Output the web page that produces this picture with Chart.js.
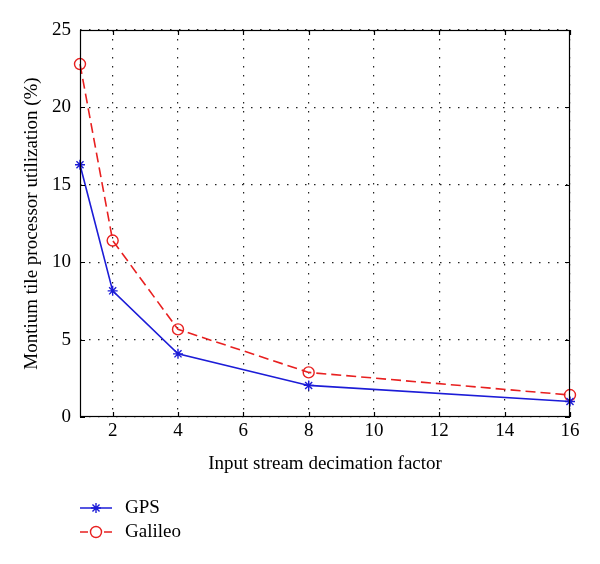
<!DOCTYPE html>
<html>
<head>
<meta charset="utf-8">
<script src="https://cdn.jsdelivr.net/npm/chart.js@4/dist/chart.umd.min.js"></script>
<style>
  html, body { margin: 0; padding: 0; background: #fff; }
  #wrap { width: 600px; height: 564px; }
</style>
</head>
<body>
<div id="wrap"><canvas id="chart" width="600" height="564"></canvas></div>
<script>
const decimation = [1, 2, 4, 8, 16];
const gpsUtil = [16.3, 8.15, 4.08, 2.04, 1.0];
const galileoUtil = [22.8, 11.4, 5.66, 2.88, 1.42];
const xTicks = [2, 4, 6, 8, 10, 12, 14, 16];
const yTicks = [0, 5, 10, 15, 20, 25];

const FONT = "'Liberation Serif', 'DejaVu Serif', serif";
const FSIZE = 19;
const BLUE = "rgb(28,28,215)";
const RED = "rgb(232,32,32)";

function toPoints(xs, ys) {
  return xs.map((x, i) => ({ x: x, y: ys[i] }));
}

// box, inward ticks, legend (matlab style)
const matlabFrame = {
  id: "matlabFrame",
  afterDraw(chart) {
    const ctx = chart.ctx;
    const a = chart.chartArea;
    const xs = chart.scales.x;
    const ys = chart.scales.y;
    ctx.save();
    ctx.strokeStyle = "#000";
    ctx.lineWidth = 1.2;
    ctx.setLineDash([]);
    ctx.strokeRect(a.left + 0.5, a.top + 0.5, a.right - a.left - 1, a.bottom - a.top - 1);
    ctx.beginPath();
    xTicks.forEach((v) => {
      const px = Math.round(xs.getPixelForValue(v)) + 0.5;
      ctx.moveTo(px, a.bottom); ctx.lineTo(px, a.bottom - 5);
      ctx.moveTo(px, a.top); ctx.lineTo(px, a.top + 5);
    });
    yTicks.forEach((v) => {
      const py = Math.round(ys.getPixelForValue(v)) + 0.5;
      ctx.moveTo(a.left, py); ctx.lineTo(a.left + 5, py);
      ctx.moveTo(a.right, py); ctx.lineTo(a.right - 5, py);
    });
    ctx.stroke();

    // legend
    const rows = [508, 532];
    chart.data.datasets.forEach((ds, i) => {
      const y = rows[i];
      ctx.strokeStyle = ds.borderColor;
      ctx.lineWidth = 1.5;
      ctx.setLineDash(ds.borderDash ? [8, 16] : []);
      ctx.beginPath();
      ctx.moveTo(80, y); ctx.lineTo(112, y);
      ctx.stroke();
      ctx.setLineDash([]);
      ctx.fillStyle = "rgba(0,0,0,0)";
      ctx.strokeStyle = ds.pointBorderColor;
      ctx.lineWidth = ds.pointBorderWidth;
      Chart.helpers.drawPoint(ctx, {
        pointStyle: ds.pointStyle,
        radius: ds.pointRadius,
        borderWidth: ds.pointBorderWidth
      }, 96, y);
      ctx.fillStyle = "#000";
      ctx.font = FSIZE + "px " + FONT;
      ctx.textBaseline = "middle";
      ctx.textAlign = "left";
      ctx.fillText(ds.label, 125, y);
    });
    ctx.restore();
  }
};

new Chart(document.getElementById("chart"), {
  type: "line",
  data: {
    datasets: [
      {
        label: "GPS",
        data: toPoints(decimation, gpsUtil),
        borderColor: BLUE,
        backgroundColor: BLUE,
        borderWidth: 1.6,
        pointStyle: "star",
        pointRadius: 5,
        pointBorderWidth: 1.4,
        pointBorderColor: BLUE,
        clip: false,
        tension: 0
      },
      {
        label: "Galileo",
        data: toPoints(decimation, galileoUtil),
        borderColor: RED,
        backgroundColor: "rgba(0,0,0,0)",
        borderWidth: 1.6,
        borderDash: [10, 5],
        pointStyle: "circle",
        pointRadius: 5.5,
        pointBorderWidth: 1.4,
        pointBorderColor: RED,
        pointBackgroundColor: "rgba(0,0,0,0)",
        clip: false,
        tension: 0
      }
    ]
  },
  options: {
    responsive: false,
    animation: false,
    devicePixelRatio: 1,
    layout: { padding: { left: 0, right: 30, top: 30, bottom: 0 } },
    plugins: {
      legend: { display: false },
      tooltip: { enabled: false }
    },
    scales: {
      x: {
        type: "linear",
        min: 1,
        max: 16,
        afterBuildTicks: (scale) => { scale.ticks = xTicks.map((v) => ({ value: v })); },
        afterFit: (scale) => { scale.height = 147; },
        border: { display: false, dash: [1.5, 7.5] },
        grid: {
          color: "#222",
          lineWidth: 1.2,
          drawTicks: false
        },
        ticks: {
          color: "#000",
          padding: 3,
          maxRotation: 0,
          font: { family: FONT, size: FSIZE }
        },
        title: {
          display: true,
          text: "Input stream decimation factor",
          color: "#000",
          font: { family: FONT, size: FSIZE },
          padding: { top: 0, bottom: 89 }
        }
      },
      y: {
        min: 0,
        max: 25,
        afterBuildTicks: (scale) => { scale.ticks = yTicks.map((v) => ({ value: v })); },
        afterFit: (scale) => { scale.width = 80; },
        border: { display: false, dash: [1.5, 7.5] },
        grid: {
          color: "#222",
          lineWidth: 1.2,
          drawTicks: false
        },
        ticks: {
          color: "#000",
          padding: 9,
          font: { family: FONT, size: FSIZE }
        },
        title: {
          display: true,
          text: "Montium tile processor utilization (%)",
          color: "#000",
          font: { family: FONT, size: FSIZE },
          padding: { top: 21, bottom: 0 }
        }
      }
    }
  },
  plugins: [matlabFrame]
});
</script>
</body>
</html>
